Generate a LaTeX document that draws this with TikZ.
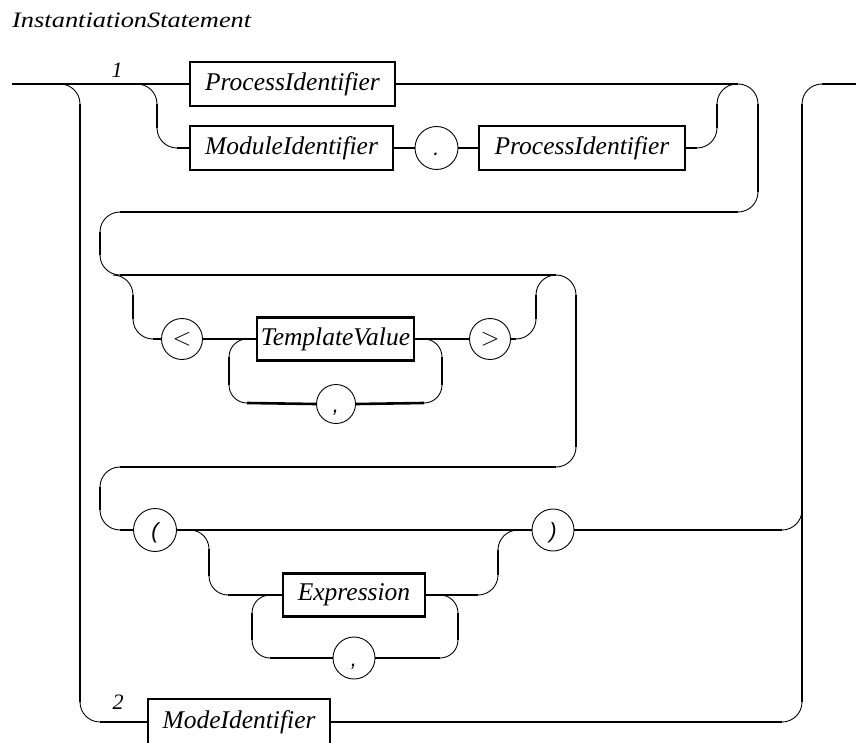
\documentclass[tikz,border=0pt]{standalone}
\usepackage{fontspec}
\setmainfont{Liberation Serif}
\newfontfamily\symfont{Liberation Sans}
\newfontfamily\headfont[FakeStretch=1.2]{Liberation Serif}
\begin{document}
\begin{tikzpicture}[x=1pt,y=-1pt,
  track/.style={line width=2.6pt},
  curve/.style={line width=0.9pt},
  term/.style={draw, line width=2.6pt, inner sep=0pt, minimum height=44pt,
    font=\fontsize{25.5}{30}\selectfont\itshape},
  tok/.style={draw, circle, line width=0.9pt, inner sep=0pt, minimum size=42pt,
    text height=18pt, text depth=2pt, font=\symfont\fontsize{22}{26}\selectfont\itshape},
  rel/.style={text height=14pt, text depth=2pt, font=\fontsize{26}{30}\selectfont},
  lbl/.style={inner sep=0pt, font=\fontsize{22}{26}\selectfont\itshape}
]
\useasboundingbox (0,0) rectangle (856,743);

% title and alternative numbers
\node[inner sep=0pt, anchor=base west, font=\headfont\fontsize{22}{26}\selectfont\itshape]
  (title) at (12,27.3) {InstantiationStatement};
\node[lbl, anchor=base] (alt1) at (117,78) {1};
\node[lbl, anchor=base] (alt2) at (118,709) {2};

% terminals and tokens
\node[term, minimum width=205pt] (pidA) at (292.5,84) {ProcessIdentifier};
\node[term, minimum width=203pt] (mid)  at (291.5,148) {ModuleIdentifier};
\node[tok, minimum size=43pt] (dot) at (436.5,148) {.};
\node[term, minimum width=206pt] (pidB) at (582,148) {ProcessIdentifier};
\node[tok, rel, minimum size=41pt] (lt) at (182,339) {$<$};
\node[term, minimum width=157pt, minimum height=43pt] (tv) at (335.5,339) {TemplateValue};
\node[tok, rel, minimum size=41pt] (gt) at (490,339) {$>$};
\node[tok, minimum size=39pt] (comma1) at (336,404) {,};
\node[tok, minimum size=43pt] (lpar) at (155,530) {(};
\node[tok, minimum size=42pt] (rpar) at (553,530) {)};
\node[term, minimum width=142pt, minimum height=43pt] (expr) at (354,595) {Expression};
\node[tok, minimum size=42pt] (comma2) at (354,658) {,};
\node[term, minimum width=182pt, minimum height=46pt] (mode) at (239,722) {ModeIdentifier};

% straight track segments
\draw[track] (12,84) -- (pidA.west);
\draw[track] (pidA.east) -- (738,84);
\draw[track] (758,104) -- (758,192);
\draw[track] (738,212) -- (120,212);
\draw[track] (100,232) -- (100,255);
\draw[track] (120,275) -- (556,275);
\draw[track] (576,295) -- (576,447);
\draw[track] (556,467) -- (120,467);
\draw[track] (100,487) -- (100,510);
\draw[track] (120,530) -- (lpar.west);
\draw[track] (lpar.east) -- (rpar.west);
\draw[track] (rpar.east) -- (782,530);
\draw[track] (802,104) -- (802,702);
\draw[track] (822,84) -- (856,84);
\draw[track] (80,104) -- (80,702);
\draw[track] (100,722) -- (mode.west);
\draw[track] (mode.east) -- (782,722);
% module-qualified alternative
\draw[track] (157,104) -- (157,128);
\draw[track] (177,148) -- (mid.west);
\draw[track] (mid.east) -- (dot.west);
\draw[track] (dot.east) -- (pidB.west);
\draw[track] (pidB.east) -- (697,148);
\draw[track] (717,128) -- (717,104);
% template arguments
\draw[track] (133,295) -- (133,319);
\draw[track] (153,339) -- (lt.west);
\draw[track] (lt.east) -- (tv.west);
\draw[track] (tv.east) -- (gt.west);
\draw[track] (gt.east) -- (516,339);
\draw[track] (536,319) -- (536,295);
\draw[track] (229,357) -- (229,385);
\draw[track] (247,403) -- (comma1.west);
\draw[track] (comma1.east) -- (424,403);
\draw[track] (442,385) -- (442,357);
% expression list
\draw[track] (209,549) -- (209,576);
\draw[track] (228,595) -- (expr.west);
\draw[track] (expr.east) -- (478,595);
\draw[track] (498,575) -- (498,550);
\draw[track] (252,613) -- (252,640);
\draw[track] (270,658) -- (comma2.west);
\draw[track] (comma2.east) -- (440,658);
\draw[track] (458,640) -- (458,613);

% curved track pieces
\draw[curve] (60,84) arc[start angle=90, end angle=0, radius=20pt];
\draw[curve] (80,702) arc[start angle=180, end angle=270, radius=20pt];
\draw[curve] (137,84) arc[start angle=90, end angle=0, radius=20pt];
\draw[curve] (157,128) arc[start angle=180, end angle=270, radius=20pt];
\draw[curve] (697,148) arc[start angle=270, end angle=360, radius=20pt];
\draw[curve] (717,104) arc[start angle=180, end angle=90, radius=20pt];
\draw[curve] (738,84) arc[start angle=90, end angle=0, radius=20pt];
\draw[curve] (758,192) arc[start angle=0, end angle=-90, radius=20pt];
\draw[curve] (120,212) arc[start angle=90, end angle=180, radius=20pt];
\draw[curve] (100,255) arc[start angle=180, end angle=270, radius=20pt];
\draw[curve] (113,275) arc[start angle=90, end angle=0, radius=20pt];
\draw[curve] (133,319) arc[start angle=180, end angle=270, radius=20pt];
\draw[curve] (516,339) arc[start angle=270, end angle=360, radius=20pt];
\draw[curve] (536,295) arc[start angle=180, end angle=90, radius=20pt];
\draw[curve] (556,275) arc[start angle=90, end angle=0, radius=20pt];
\draw[curve] (576,447) arc[start angle=0, end angle=-90, radius=20pt];
\draw[curve] (120,467) arc[start angle=90, end angle=180, radius=20pt];
\draw[curve] (100,510) arc[start angle=180, end angle=270, radius=20pt];
\draw[curve] (782,530) arc[start angle=270, end angle=360, radius=20pt];
\draw[curve] (802,104) arc[start angle=180, end angle=90, radius=20pt];
\draw[curve] (782,722) arc[start angle=270, end angle=360, radius=20pt];
\draw[curve] (247,339) arc[start angle=90, end angle=180, radius=18pt];
\draw[curve] (229,385) arc[start angle=180, end angle=270, radius=18pt];
\draw[curve] (424,403) arc[start angle=270, end angle=360, radius=18pt];
\draw[curve] (442,357) arc[start angle=0, end angle=90, radius=18pt];
\draw[curve] (190,530) arc[start angle=90, end angle=0, radius=19pt];
\draw[curve] (209,576) arc[start angle=180, end angle=270, radius=19pt];
\draw[curve] (478,595) arc[start angle=270, end angle=360, radius=20pt];
\draw[curve] (498,550) arc[start angle=180, end angle=90, radius=20pt];
\draw[curve] (270,595) arc[start angle=90, end angle=180, radius=18pt];
\draw[curve] (252,640) arc[start angle=180, end angle=270, radius=18pt];
\draw[curve] (440,658) arc[start angle=270, end angle=360, radius=18pt];
\draw[curve] (458,613) arc[start angle=0, end angle=90, radius=18pt];
\end{tikzpicture}
\end{document}
